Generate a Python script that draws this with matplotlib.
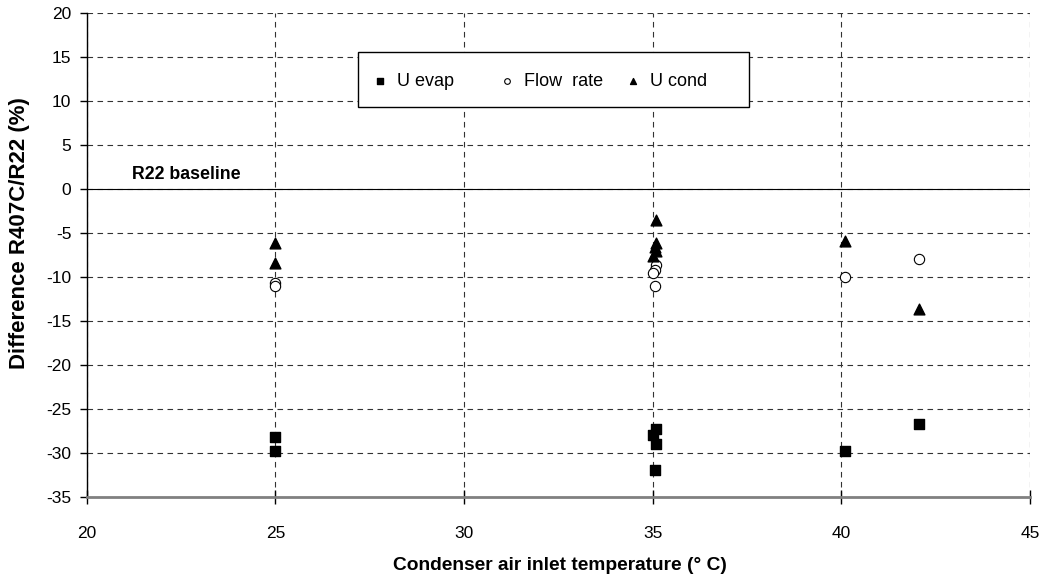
import matplotlib
matplotlib.use("Agg")
import matplotlib.pyplot as plt
from matplotlib.patches import Rectangle
from matplotlib.legend import Legend

plt.rcParams['font.family'] = ['Liberation Sans', 'DejaVu Sans']
plt.rcParams['axes.unicode_minus'] = False

# Data
uevap_x = [25.0, 25.0, 35.1, 35.0, 35.1, 35.05, 40.1, 42.05]
uevap_y = [-28.2, -29.8, -27.3, -28.0, -29.0, -31.9, -29.8, -26.7]
flow_x = [25.0, 24.98, 35.1, 35.05, 35.0, 35.05, 40.1, 42.05]
flow_y = [-10.7, -11.0, -8.6, -9.2, -9.5, -11.0, -10.0, -7.9]
ucond_x = [25.0, 25.0, 35.1, 35.1, 35.05, 35.1, 35.0, 40.1, 42.05]
ucond_y = [-6.1, -8.4, -3.5, -6.1, -6.6, -7.1, -7.6, -5.9, -13.6]
series_labels = ['U evap', 'Flow  rate', 'U cond']

x_ticks = [20, 25, 30, 35, 40, 45]
y_ticks = [20, 15, 10, 5, 0, -5, -10, -15, -20, -25, -30, -35]

fig = plt.figure(figsize=(10.46, 5.81), dpi=100)
L, R, T, B = 86.7, 1030, 13, 497
W, H = R - L, B - T
ax = fig.add_axes([L/1046, 1-B/581, W/1046, H/581])

ax.set_xlim(20, 45)
ax.set_ylim(-35, 20)
ax.set_xticks(x_ticks)
ax.set_yticks(y_ticks)

ax.grid(True, color='#333333', linestyle=(0, (5, 4)), linewidth=0.8)
ax.set_axisbelow(True)

for s in ['top', 'right']:
    ax.spines[s].set_visible(False)
ax.spines['left'].set_color('black')
ax.spines['left'].set_linewidth(1.0)
ax.spines['bottom'].set_color('#808080')
ax.spines['bottom'].set_linewidth(2.0)

ax.tick_params(axis='y', direction='out', length=5, width=1, labelsize=12.5, pad=6)
ax.tick_params(axis='x', direction='inout', length=10, width=1, labelsize=12.5, pad=16)

ax.axhline(0, color='black', linewidth=0.8)
ax.text(21.2, 0.7, 'R22 baseline', fontsize=12.8, fontweight='bold', va='bottom', ha='left')

h1 = ax.scatter(uevap_x, uevap_y, marker='s', s=55, color='black', zorder=3)
h2 = ax.scatter(flow_x, flow_y, marker='o', s=55, facecolor='white', edgecolor='black', linewidths=0.8, zorder=3)
h3 = ax.scatter(ucond_x, ucond_y, marker='^', s=60, color='black', zorder=3)

# legend frame
lx0, lx1, ly0, ly1 = 358, 749, 52, 107
ax.add_patch(Rectangle(((lx0-L)/W, (B-ly1)/H), (lx1-lx0)/W, (ly1-ly0)/H,
                       transform=ax.transAxes, facecolor='white', edgecolor='black',
                       linewidth=1.0, zorder=4))

# legend entries at fixed positions
fs = 13
hl = 0.9
half_handle = hl * fs * 100/72 / 2
yc = 81
marker_px = [380, 507, 633]
for h, lab, mx in zip([h1, h2, h3], series_labels, marker_px):
    lg = Legend(ax, [h], [lab], loc='center left',
                bbox_to_anchor=((mx - half_handle - L)/W, (B-yc)/H),
                fontsize=fs, frameon=False, markerscale=0.55,
                handletextpad=0.5, borderpad=0, borderaxespad=0,
                handlelength=hl)
    lg.set_zorder(5)
    ax.add_artist(lg)

ax.set_xlabel('Condenser air inlet temperature (° C)', fontsize=13.8, fontweight='bold')
ax.set_ylabel('Difference R407C/R22 (%)', fontsize=16, fontweight='bold')
ax.xaxis.set_label_coords((560-L)/W, -(566-B)/H)
ax.yaxis.set_label_coords((20-L)/W, (B-233)/H)
ax.xaxis.label.set_va('center')
ax.yaxis.label.set_va('center')

fig.savefig('out.png', dpi=100)
